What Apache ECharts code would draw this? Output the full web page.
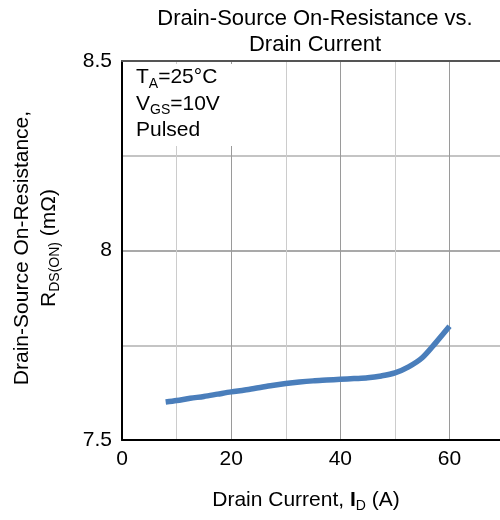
<!DOCTYPE html>
<html><head><meta charset="utf-8">
<script src="https://cdn.jsdelivr.net/npm/echarts@6/dist/echarts.min.js"></script>
<style>html,body{margin:0;padding:0;background:#fff}#c{width:500px;height:520px}</style>
</head><body><div id="c"></div>
<script>
const drainCurrent = [8, 10, 12.5, 15, 17.5, 20, 22.5, 25, 27.5, 30, 32.5, 35, 37.5, 40, 42.5, 45, 47.5, 50, 52.5, 55, 57.5, 60];
const rdsOn = [7.600, 7.604, 7.610, 7.615, 7.621, 7.627, 7.632, 7.638, 7.644, 7.649, 7.653, 7.656, 7.658, 7.660, 7.662, 7.664, 7.669, 7.677, 7.693, 7.717, 7.757, 7.800];
const xTicks = [0, 20, 40, 60];
const yTicks = [7.5, 8, 8.5];

const F = '"Liberation Sans", Arial, sans-serif';
const chart = echarts.init(document.getElementById('c'));
chart.setOption({
  animation: false,
  backgroundColor: '#fff',
  grid: { left: 122, top: 61, width: 378, height: 379, containLabel: false },
  xAxis: [{
    type: 'value', min: 0, max: 69.25, interval: 10,
    axisLine: { show: true, lineStyle: { color: '#000', width: 2 } },
    axisTick: { show: false },
    axisLabel: { color: '#000', fontFamily: F, fontSize: 21, margin: 9, showMaxLabel: false,
      formatter: v => xTicks.includes(v) ? String(v) : '' },
    splitLine: { show: true, lineStyle: { color: ['#9a9a9a', '#cccccc'], width: 1 } }
  }, {
    type: 'value', position: 'top', min: 0, max: 69.25,
    axisLine: { show: true, onZero: false, lineStyle: { color: '#555', width: 2 } },
    axisTick: { show: false }, axisLabel: { show: false }, splitLine: { show: false }
  }],
  yAxis: {
    type: 'value', min: 7.5, max: 8.5, interval: 0.5,
    axisLine: { show: true, lineStyle: { color: '#000', width: 2 } },
    axisTick: { show: false },
    axisLabel: { color: '#000', fontFamily: F, fontSize: 21, margin: 10,
      formatter: v => yTicks.includes(+v.toFixed(2)) ? String(v) : '' },
    splitLine: { show: true, lineStyle: { color: '#8c8c8c', width: 1.5 } },
    minorTick: { show: false, splitNumber: 2 },
    minorSplitLine: { show: true, lineStyle: { color: '#c4c4c4', width: 2 } }
  },
  series: [{
    type: 'line', smooth: 0.3, showSymbol: false,
    data: drainCurrent.map((x, i) => [x, rdsOn[i]]),
    lineStyle: { color: '#4a7ebb', width: 5.5 }
  }],
  graphic: [
    { type: 'rect', left: 124, top: 64, shape: { width: 110, height: 82 }, style: { fill: '#fff' }, z: 50 },
    { type: 'text', left: 136, top: 67, z: 51, style: {
      text: '{n|T}{s|A}{n|=25°C}\n{n|V}{s|GS}{n|=10V}\n{n|Pulsed}',
      rich: { n: { fontFamily: F, fontSize: 21, lineHeight: 26.5, fill: '#000' },
              s: { fontFamily: F, fontSize: 14, lineHeight: 26.5, verticalAlign: 'bottom', fill: '#000' } } } },
    { type: 'text', x: 315, y: 6, style: {
      text: 'Drain-Source On-Resistance vs.\nDrain Current', textAlign: 'center',
      font: '22px ' + F, lineHeight: 26, fill: '#000' } },
    { type: 'text', x: 306, y: 500, style: {
      text: '{n|Drain Current, }{b|I}{s|D}{n| (A)}', textAlign: 'center', textVerticalAlign: 'middle',
      rich: { n: { fontFamily: F, fontSize: 21, lineHeight: 26, fill: '#000' },
              b: { fontFamily: F, fontSize: 21, fontWeight: 'bold', lineHeight: 26, fill: '#000' },
              s: { fontFamily: F, fontSize: 14, lineHeight: 26, verticalAlign: 'bottom', fill: '#000' } } } },
    { type: 'text', x: 22, y: 248, rotation: Math.PI / 2, style: {
      text: 'Drain-Source On-Resistance,', textAlign: 'center', textVerticalAlign: 'middle',
      font: '21px ' + F, fill: '#000' } },
    { type: 'text', x: 49, y: 248, rotation: Math.PI / 2, style: {
      text: '{n|R}{s|DS(ON)}{n| (mΩ)}', textAlign: 'center', textVerticalAlign: 'middle',
      rich: { n: { fontFamily: F, fontSize: 21, lineHeight: 26, fill: '#000' },
              s: { fontFamily: F, fontSize: 14, lineHeight: 26, verticalAlign: 'bottom', fill: '#000' } } } }
  ]
});
</script></body></html>
